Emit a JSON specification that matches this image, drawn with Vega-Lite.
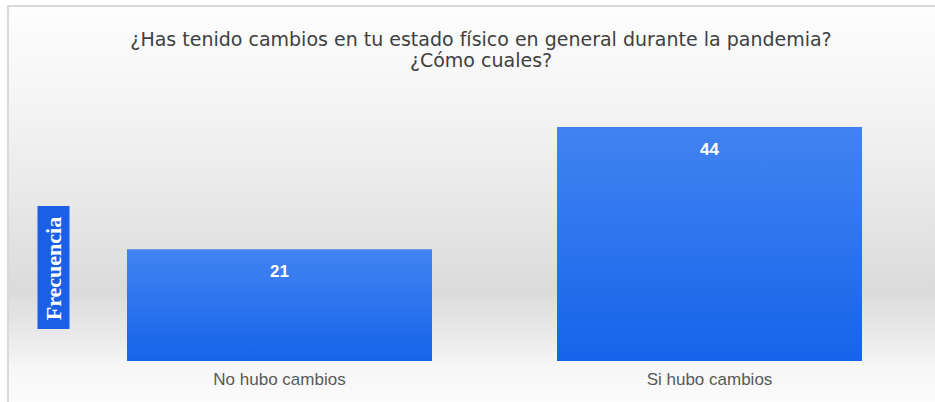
{
  "$schema": "https://vega.github.io/schema/vega-lite/v6.json",
  "autosize": {"type": "none"},
  "width": 930,
  "height": 400,
  "padding": {"left": 8, "top": 6, "right": -3, "bottom": -4},
  "background": "#ffffff",
  "title": {
    "text": ["¿Has tenido cambios en tu estado físico en general durante la pandemia?", "¿Cómo cuales?"],
    "font": "DejaVu Sans",
    "fontSize": 19,
    "fontWeight": "normal",
    "color": "#404040",
    "anchor": "middle",
    "frame": "group",
    "dx": 8,
    "lineHeight": 21,
    "offset": -65
  },
  "config": {
    "view": {
      "stroke": "#d9d9d9",
      "strokeWidth": 2,
      "fill": {
        "gradient": "linear", "x1": 0, "y1": 0, "x2": 0, "y2": 1,
        "stops": [
          {"offset": 0, "color": "#fdfdfd"},
          {"offset": 0.235, "color": "#f5f5f5"},
          {"offset": 0.485, "color": "#e8e8e8"},
          {"offset": 0.71, "color": "#dbdbdb"},
          {"offset": 0.835, "color": "#ebebeb"},
          {"offset": 0.8975, "color": "#f6f6f6"},
          {"offset": 1, "color": "#fcfcfc"}
        ]
      }
    }
  },
  "data": {
    "values": [
      {"categoria": "No hubo cambios", "frecuencia": 21},
      {"categoria": "Si hubo cambios", "frecuencia": 44}
    ]
  },
  "encoding": {
    "x": {
      "field": "categoria",
      "type": "nominal",
      "sort": null,
      "scale": {"paddingInner": 0.2907, "paddingOuter": 0.2267, "align": 0.6103},
      "axis": {
        "title": null,
        "offset": -45,
        "labelAngle": 0,
        "labelFont": "Liberation Sans",
        "labelFontSize": 17,
        "labelColor": "#595959",
        "labelPadding": 10,
        "ticks": false,
        "domain": false,
        "grid": false
      }
    },
    "y": {
      "field": "frecuencia",
      "type": "quantitative",
      "scale": {"domain": [-8.46, 66.73], "nice": false, "zero": false},
      "axis": {
        "title": "Frecuencia",
        "offset": -61,
        "titleFont": "Liberation Serif",
        "titleFontWeight": "bold",
        "titleFontSize": 22,
        "titleColor": "#ffffff",
        "titleAngle": -90,
        "titleAlign": "center",
        "titleBaseline": "middle",
        "titleX": -16,
        "titleY": 262,
        "labels": false,
        "grid": false,
        "domain": false,
        "values": [17.76],
        "ticks": true,
        "tickSize": 32,
        "tickWidth": 123,
        "tickColor": "#1a5fe6",
        "tickCap": "butt"
      }
    }
  },
  "layer": [
    {
      "mark": {
        "type": "bar",
        "color": {
          "gradient": "linear", "x1": 0, "y1": 0, "x2": 0, "y2": 1,
          "stops": [
            {"offset": 0, "color": "#4283f1"},
            {"offset": 1, "color": "#1664ea"}
          ]
        }
      },
      "encoding": {"y2": {"datum": 0}}
    },
    {
      "mark": {
        "type": "text",
        "baseline": "top",
        "dy": 15,
        "font": "Liberation Sans",
        "fontSize": 17,
        "fontWeight": "bold",
        "color": "#ffffff"
      },
      "encoding": {"text": {"field": "frecuencia", "type": "quantitative"}}
    }
  ]
}
